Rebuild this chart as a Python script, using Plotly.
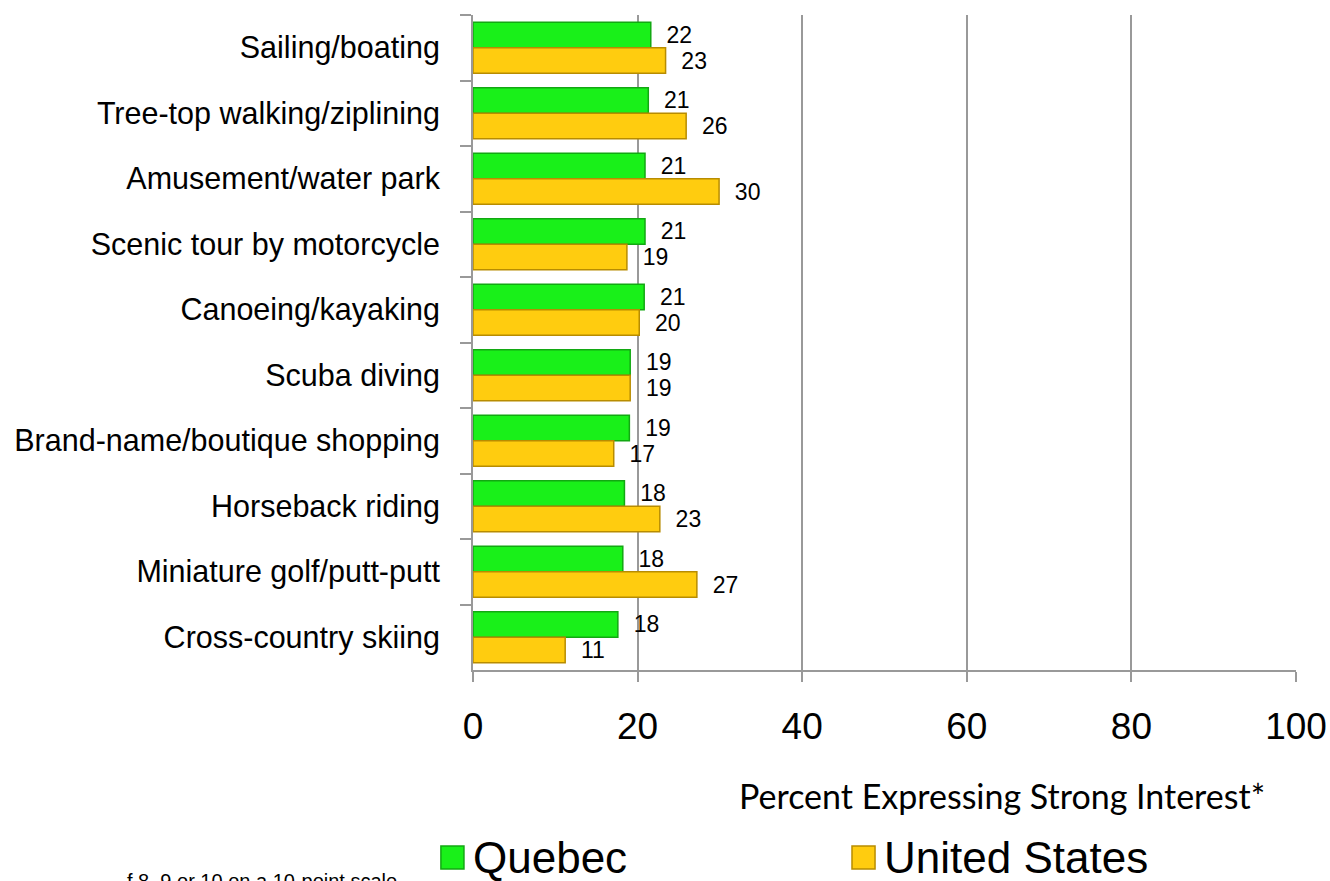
import plotly.graph_objects as go

activities = [
    "Sailing/boating",
    "Tree-top walking/ziplining",
    "Amusement/water park",
    "Scenic tour by motorcycle",
    "Canoeing/kayaking",
    "Scuba diving",
    "Brand-name/boutique shopping",
    "Horseback riding",
    "Miniature golf/putt-putt",
    "Cross-country skiing",
]
quebec = [21.6, 21.3, 20.9, 20.9, 20.8, 19.1, 19.0, 18.4, 18.2, 17.6]
united_states = [23.4, 25.9, 29.9, 18.7, 20.2, 19.1, 17.1, 22.7, 27.2, 11.2]
quebec_labels = [22, 21, 21, 21, 21, 19, 19, 18, 18, 18]
us_labels = [23, 26, 30, 19, 20, 19, 17, 23, 27, 11]
x_ticks = [0, 20, 40, 60, 80, 100]

series = [
    ("Quebec", quebec, quebec_labels, "#19f019", "#12a812"),
    ("United States", united_states, us_labels, "#ffcc0f", "#b88c00"),
]

fig = go.Figure()
for name, vals, labels, fill, edge in series:
    fig.add_trace(go.Bar(
        name=name, y=activities, x=vals, orientation="h",
        marker=dict(color=fill, line=dict(color=edge, width=1.5)),
        text=labels, texttemplate="\u00a0\u00a0%{text}", textposition="outside",
        constraintext="none",
        textfont=dict(size=23, color="black", family="Liberation Sans, Arial"),
        cliponaxis=False, showlegend=False,
    ))

# legend drawn by hand so the swatches can be as big as in the original
legend_x = [-0.039, 0.4605]
shapes = []
annotations = []
for (name, _, _, fill, edge), lx in zip(series, legend_x):
    shapes.append(dict(type="rect", xref="paper", yref="paper",
                       x0=lx, x1=lx + 0.028, y0=-0.3038, y1=-0.2687,
                       fillcolor=fill, line=dict(color=edge, width=1.5)))
    annotations.append(dict(text=name, xref="paper", yref="paper",
                            x=lx + 0.036, y=-0.287, xanchor="left", yanchor="middle",
                            showarrow=False, font=dict(size=44, family="Liberation Sans, Arial")))

annotations.append(dict(text="Percent Expressing Strong Interest*", xref="paper", yref="paper",
                        x=0.643, y=-0.191, xanchor="center", yanchor="middle", showarrow=False,
                        font=dict(size=34, family="Lato, Open Sans")))
annotations.append(dict(text="f 8, 9 or 10 on a 10-point scale", xref="paper", yref="paper",
                        x=-0.4228, y=-0.3023, xanchor="left", yanchor="top", showarrow=False,
                        font=dict(size=20, family="Liberation Sans, Arial")))

fig.update_layout(
    width=1330, height=881,
    margin=dict(l=473, r=34, t=15, b=211, autoexpand=False),
    paper_bgcolor="white", plot_bgcolor="white",
    barmode="group", bargap=0.22, bargroupgap=0.0,
    font=dict(family="Liberation Sans, Arial", color="black"),
    showlegend=False,
    xaxis=dict(
        range=[0, 100], tickvals=x_ticks, showgrid=True, gridcolor="#999999", gridwidth=1.5,
        showline=True, linecolor="#999999", linewidth=2, ticks="outside", ticklen=10,
        tickcolor="#999999", tickwidth=2, tickfont=dict(size=37), ticklabelstandoff=13,
        zeroline=False,
    ),
    yaxis=dict(
        autorange="reversed", showline=True, linecolor="#999999", linewidth=2,
        ticks="outside", tickson="boundaries", ticklen=11, tickcolor="#999999", tickwidth=2,
        tickfont=dict(size=30.5), ticklabelstandoff=25, showgrid=False,
    ),
    shapes=shapes,
    annotations=annotations,
)

# drop the page's default body margin so the figure fills the window exactly
fig.write_html("out.html", config={"displayModeBar": False},
               post_script="document.body.style.margin='0';")
